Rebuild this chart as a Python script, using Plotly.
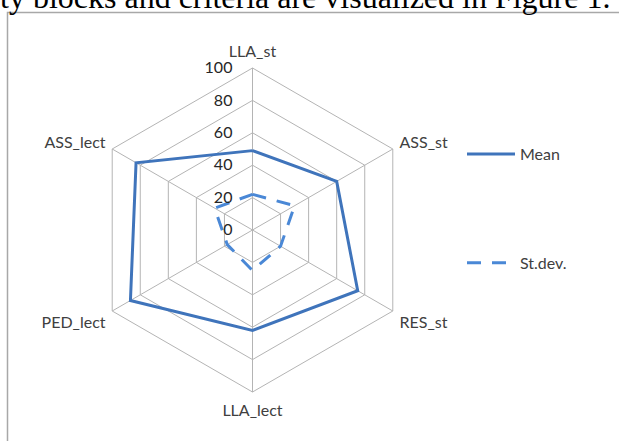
import plotly.graph_objects as go

# Criteria around the radar, clockwise from the top
criteria = ["LLA_st", "ASS_st", "RES_st", "LLA_lect", "PED_lect", "ASS_lect"]
mean_values = [49, 60, 75, 62, 87, 83]
stdev_values = [22, 30, 20, 25, 18, 27]
radial_ticks = [0, 20, 40, 60, 80, 100]

W, H = 619, 441
cx, cy, R = 252.5, 230.0, 162.0   # centre and outer radius in pixels

grid_col = "#b4b4b4"
text_col = "#404040"
sans = "Lato, 'Open Sans', sans-serif"
label_font = dict(family=sans, size=16, color=text_col)


def closed(seq):
    return list(seq) + [seq[0]]


fig = go.Figure()
fig.add_trace(go.Scatterpolar(
    r=closed(mean_values), theta=closed(criteria), mode="lines",
    name="Mean", legendgroup="mean",
    line=dict(color="#3f74bb", width=3),
))
fig.add_trace(go.Scatterpolar(
    r=closed(stdev_values), theta=closed(criteria), mode="lines",
    name="St.dev.", legendgroup="sd",
    line=dict(color="#4a88d6", width=3, dash="14px,11px"),
))

fig.update_layout(
    width=W, height=H,
    margin=dict(l=0, r=0, t=0, b=0),
    paper_bgcolor="white",
    font=label_font,
    polar=dict(
        domain=dict(x=[(cx - R) / W, (cx + R) / W],
                    y=[(H - cy - R) / H, (H - cy + R) / H]),
        bgcolor="white",
        gridshape="linear",
        angularaxis=dict(
            rotation=90, direction="clockwise",
            categoryorder="array", categoryarray=criteria,
            showline=True, linecolor=grid_col, linewidth=1,
            gridcolor=grid_col, gridwidth=1,
            ticks="outside", ticklen=4, tickcolor="rgba(0,0,0,0)",
            tickfont=label_font,
        ),
        radialaxis=dict(
            range=[0, 100], tickvals=radial_ticks,
            angle=90, tickangle=90, side="counterclockwise",
            showline=False,
            ticks="outside", ticklen=14, tickcolor="rgba(0,0,0,0)",
            gridcolor=grid_col, gridwidth=1,
            tickfont=dict(family=sans, size=16, color="#262626"),
        ),
    ),
    showlegend=True,
    legend=dict(
        x=462 / W, y=1 - 137 / H, xanchor="left", yanchor="top",
        tracegroupgap=85, itemwidth=48,
        font=dict(family=sans, size=16, color=text_col),
        bgcolor="rgba(0,0,0,0)",
    ),
    shapes=[dict(
        type="rect", xref="paper", yref="paper",
        x0=7.5 / W, x1=1.05, y0=-0.05, y1=1 - 12.5 / H,
        line=dict(color="#a8a8a8", width=1.5), layer="below",
    )],
    annotations=[dict(
        text="ty blocks and criteria are visualized in Figure 1.",
        xref="paper", yref="paper", x=612 / W, y=1 + 2.5 / H,
        xanchor="right", yanchor="middle", showarrow=False,
        font=dict(family="'Liberation Serif', 'Times New Roman', serif", size=32, color="black"),
    )],
)

fig.write_html("out.html")
